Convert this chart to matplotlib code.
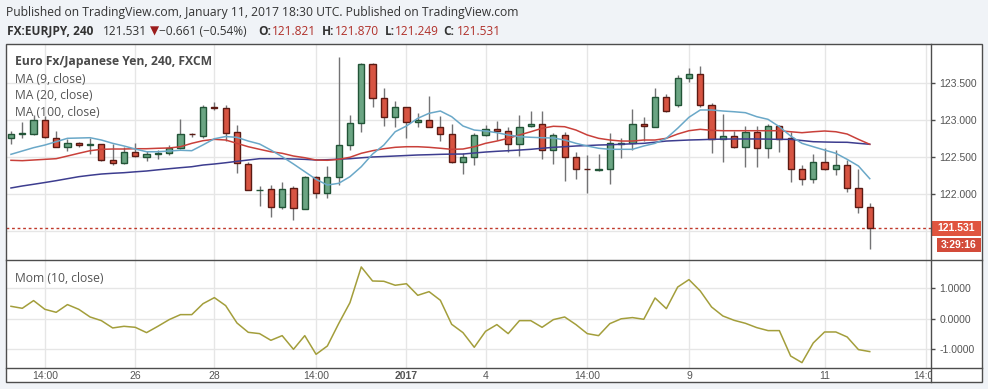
import matplotlib
matplotlib.use("Agg")
import matplotlib.pyplot as plt
from matplotlib.patches import Rectangle
from matplotlib.transforms import Bbox, TransformedBbox
import numpy as np

plt.rcParams['font.family'] = ['Liberation Sans', 'DejaVu Sans']

# EURJPY 4h candles
opens = [122.752, 122.81, 122.81, 123.00, 122.76, 122.63, 122.684, 122.668, 122.67, 122.454,
         122.413, 122.562, 122.503, 122.54, 122.55, 122.616, 122.815, 122.79, 123.17, 123.16,
         122.833, 122.41, 122.05, 122.06, 121.82, 122.075, 121.80, 122.23, 122.007, 122.224,
         122.657, 122.955, 123.755, 123.294, 123.037, 123.17, 122.97, 122.996, 122.90, 122.806,
         122.435, 122.50, 122.797, 122.874, 122.847, 122.67, 122.915, 122.942, 122.60, 122.793,
         122.503, 122.335, 122.32, 122.33, 122.68, 122.684, 122.94, 122.91, 123.31, 123.21,
         123.565, 123.62, 123.21, 122.74, 122.787, 122.64, 122.84, 122.617, 122.915, 122.752,
         122.332, 122.196, 122.427, 122.332, 122.386, 122.075, 121.821]
highs = [122.85, 122.97, 123.07, 123.05, 122.85, 122.74, 122.706, 122.76, 122.68, 122.67,
         122.64, 122.69, 122.576, 122.59, 122.66, 123.01, 122.83, 123.20, 123.24, 123.20,
         122.93, 122.43, 122.11, 122.12, 122.16, 122.10, 122.24, 122.24, 122.376, 123.858,
         123.07, 123.77, 123.77, 123.44, 123.26, 123.18, 123.10, 123.325, 123.05, 122.946,
         122.55, 122.82, 122.93, 122.986, 122.91, 123.07, 123.12, 123.12, 122.83, 122.84,
         122.56, 122.525, 122.535, 122.83, 122.75, 123.15, 123.04, 123.44, 123.35, 123.61,
         123.70, 123.73, 123.23, 123.08, 122.855, 122.92, 122.92, 122.95, 122.93, 122.84,
         122.39, 122.54, 122.617, 122.60, 122.46, 122.336, 121.870]
lows = [122.675, 122.76, 122.80, 122.76, 122.63, 122.58, 122.63, 122.535, 122.45, 122.39,
        122.41, 122.50, 122.44, 122.47, 122.53, 122.61, 122.77, 122.75, 123.135, 122.715,
        122.28, 122.05, 121.84, 121.68, 121.79, 121.65, 121.79, 121.94, 121.94, 122.12,
        122.60, 122.84, 123.18, 122.92, 122.91, 122.76, 122.91, 122.90, 122.71, 122.42,
        122.27, 122.39, 122.78, 122.73, 122.56, 122.516, 122.90, 122.476, 122.41, 122.18,
        122.20, 122.015, 122.31, 122.13, 122.49, 122.59, 122.71, 122.90, 123.11, 123.18,
        123.52, 123.18, 122.55, 122.43, 122.617, 122.36, 122.37, 122.48, 122.57, 122.156,
        122.115, 122.15, 122.32, 122.25, 122.03, 121.736, 121.249]
closes = [122.81, 122.82, 123.00, 122.77, 122.634, 122.684, 122.657, 122.672, 122.454, 122.413,
          122.562, 122.508, 122.535, 122.55, 122.616, 122.81, 122.805, 123.17, 123.16, 122.83,
          122.413, 122.051, 122.055, 121.817, 122.07, 121.81, 122.232, 122.007, 122.224, 122.657,
          122.955, 123.759, 123.294, 123.037, 123.17, 122.97, 123.005, 122.90, 122.806, 122.435,
          122.50, 122.797, 122.874, 122.847, 122.67, 122.91, 122.94, 122.60, 122.793, 122.503,
          122.332, 122.33, 122.33, 122.684, 122.69, 122.94, 122.915, 123.31, 123.12, 123.565,
          123.62, 123.21, 122.74, 122.787, 122.64, 122.833, 122.617, 122.915, 122.747, 122.332,
          122.196, 122.427, 122.33, 122.386, 122.075, 121.82, 121.531]

ma9 = [122.535, 122.58, 122.625, 122.661, 122.706, 122.752, 122.756, 122.76, 122.729, 122.684,
       122.648, 122.607, 122.57, 122.57, 122.58, 122.59, 122.584, 122.663, 122.746, 122.776,
       122.765, 122.715, 122.675, 122.593, 122.503, 122.404, 122.30, 122.196, 122.119, 122.142,
       122.232, 122.367, 122.539, 122.661, 122.841, 122.919, 123.023, 123.091, 123.122, 123.045,
       122.919, 122.864, 122.851, 122.828, 122.797, 122.774, 122.766, 122.76, 122.756, 122.729,
       122.684, 122.648, 122.617, 122.603, 122.603, 122.603, 122.648, 122.684, 122.752, 122.888,
       123.037, 123.136, 123.136, 123.122, 123.112, 123.099, 123.045, 123.009, 122.909, 122.783,
       122.684, 122.638, 122.593, 122.549, 122.467, 122.377, 122.205]
ma20 = [122.454, 122.449, 122.458, 122.467, 122.476, 122.512, 122.549, 122.584, 122.603, 122.607,
        122.607, 122.611, 122.611, 122.617, 122.621, 122.638, 122.684, 122.72, 122.738, 122.729,
        122.684, 122.638, 122.603, 122.57, 122.549, 122.512, 122.489, 122.458, 122.454, 122.467,
        122.495, 122.549, 122.584, 122.611, 122.63, 122.638, 122.638, 122.63, 122.617, 122.603,
        122.607, 122.638, 122.684, 122.715, 122.752, 122.797, 122.841, 122.888, 122.915, 122.909,
        122.864, 122.797, 122.752, 122.729, 122.715, 122.715, 122.729, 122.729, 122.752, 122.81,
        122.855, 122.874, 122.86, 122.855, 122.855, 122.855, 122.855, 122.855, 122.855, 122.841,
        122.828, 122.841, 122.851, 122.841, 122.81, 122.738, 122.671]
ma100 = [122.079, 122.106, 122.129, 122.153, 122.178, 122.205, 122.232, 122.251, 122.268, 122.278,
         122.286, 122.298, 122.309, 122.325, 122.34, 122.354, 122.367, 122.39, 122.404, 122.421,
         122.44, 122.458, 122.476, 122.476, 122.476, 122.472, 122.467, 122.458, 122.462, 122.469,
         122.476, 122.488, 122.499, 122.505, 122.512, 122.519, 122.526, 122.53, 122.535, 122.538,
         122.539, 122.553, 122.566, 122.576, 122.584, 122.593, 122.603, 122.617, 122.63, 122.638,
         122.648, 122.654, 122.661, 122.665, 122.671, 122.678, 122.684, 122.699, 122.715, 122.722,
         122.729, 122.733, 122.738, 122.741, 122.743, 122.743, 122.743, 122.741, 122.738, 122.738,
         122.722, 122.706, 122.702, 122.699, 122.698, 122.684, 122.671]
mom10 = [0.41, 0.344, 0.597, 0.311, 0.213, 0.466, 0.311, 0.06, -0.06, -0.30,
         -0.246, -0.279, -0.453, -0.246, -0.027, 0.137, 0.137, 0.497, 0.694, 0.432,
         -0.137, -0.443, -0.486, -0.705, -0.552, -1.0, -0.552, -1.164, -0.891, -0.158,
         0.53, 1.70, 1.24, 1.23, 1.10, 1.15, 0.77, 0.89, 0.607, -0.18,
         -0.453, -0.934, -0.41, -0.19, -0.486, -0.06, -0.06, -0.279, -0.027, 0.06,
         -0.19, -0.486, -0.552, -0.158, 0.0, 0.04, -0.016, 0.683, 0.333, 1.04,
         1.285, 0.913, 0.388, 0.093, -0.05, -0.148, -0.289, -0.387, -0.387, -1.22,
         -1.437, -0.792, -0.432, -0.432, -0.596, -1.01, -1.075]

tick_pos = [3, 11, 18, 27, 35, 42, 51, 60, 72, 81]
tick_labels = ["14:00", "26", "28", "14:00", "2017", "4", "14:00", "9", "11", "14:00"]
price_ticks = [122.0, 122.5, 123.0, 123.5]
mom_ticks = [-1.0, 0.0, 1.0]
last_price = 121.531
countdown = "3:29:16"

W, H = 988.0, 389.0
bg = "#f0f3f7"
edge = "#4d4d4d"
grid = "#e6e6e6"
txt = "#555555"
red_txt = "#b0302a"

fig = plt.figure(figsize=(9.88, 3.89), dpi=100)
fig.patch.set_facecolor(bg)

base = fig.add_axes([0, 0, 1, 1], zorder=0)
base.set_xlim(0, W); base.set_ylim(H, 0); base.axis("off")
base.add_patch(Rectangle((6, 44), 976, 338, facecolor="white", edgecolor="none"))

ax = fig.add_axes([6 / W, 1 - 260 / H, 925 / W, 216 / H], zorder=1)
axm = fig.add_axes([6 / W, 1 - 368 / H, 925 / W, 108 / H], zorder=1)

# candles
idx = np.arange(len(closes))
o = np.array(opens); c = np.array(closes)
up = c >= o
bot = np.minimum(o, c)
hgt = np.maximum(np.abs(c - o), 0.004)
ax.vlines(idx, lows, highs, color="#737375", lw=1, zorder=2)
ax.bar(idx[up], hgt[up], bottom=bot[up], width=0.55, color="#6ba583",
       edgecolor="#225437", lw=1, zorder=3)
ax.bar(idx[~up], hgt[~up], bottom=bot[~up], width=0.55, color="#d75442",
       edgecolor="#5b1a13", lw=1, zorder=3)

ax.plot(idx, ma100, color="#3d3d8f", lw=1.1, zorder=4)
ax.plot(idx, ma20, color="#c9403a", lw=1.1, zorder=4)
ax.plot(idx, ma9, color="#6aa8c8", lw=1.1, zorder=4)

ax.axhline(121.5, color=grid, lw=1, zorder=0.5)
ax.axhline(last_price, color="#c0392b", lw=1, ls=(0, (2, 2)), zorder=1.5)

for a in (ax, axm):
    a.set_xlim(-0.44, 81.42)
    a.set_xticks(tick_pos)
    a.grid(True, color=grid, lw=1)
    a.set_axisbelow(True)
    a.yaxis.tick_right()
    a.tick_params(axis="y", length=3, width=1, color=edge, pad=3,
                  labelsize=7.5, labelcolor=txt)
    for s in a.spines.values():
        s.set_visible(False)

ax.set_ylim(121.103, 124.03)
ax.set_yticks(price_ticks)
ax.set_yticklabels([f"{v:.3f}" for v in price_ticks])
ax.tick_params(axis="x", length=0, labelbottom=False)

axm.plot(idx, mom10, color="#a39e3b", lw=1.1)
axm.set_ylim(-1.613, 1.928)
axm.set_yticks(mom_ticks)
axm.set_yticklabels([f"{v:.4f}" for v in mom_ticks])
axm.set_xticklabels(tick_labels)
axm.tick_params(axis="x", length=0, pad=2, labelsize=7.5, labelcolor=txt)
xl = axm.get_xticklabels()
xl[4].set_fontweight("bold")
xl[-1].set_clip_box(TransformedBbox(Bbox([[0, 0], [931 / W, 1]]), fig.transFigure))
xl[-1].set_clip_on(True)

# overlay in pixel coordinates
top = fig.add_axes([0, 0, 1, 1], zorder=5)
top.set_xlim(0, W); top.set_ylim(H, 0); top.axis("off")
top.add_patch(Rectangle((6, 44), 976, 338, facecolor="none", edgecolor=edge, lw=1))
top.plot([6, 982], [260, 260], color=edge, lw=1)
top.plot([6, 982], [368, 368], color=edge, lw=1)
top.plot([931, 931], [44, 382], color=edge, lw=1)

yp = H - ax.transData.transform((0, last_price))[1]
top.add_patch(Rectangle((931, yp - 7.5), 50, 15, facecolor="#e0553f", edgecolor="none"))
top.text(956, yp, f"{last_price:.3f}", color="white", fontsize=7.5, fontweight="bold",
         ha="center", va="center")
top.add_patch(Rectangle((937, yp + 9.5), 44, 14.5, facecolor="#d34b3a", edgecolor="none"))
top.text(959, yp + 16.8, countdown, color="white", fontsize=7.5, fontweight="bold",
         ha="center", va="center")

hf = ["Open Sans", "DejaVu Sans"]
top.text(15, 61.7, "Euro Fx/Japanese Yen, 240, FXCM", family=hf, fontsize=8.7,
         fontweight="bold", color="#4a4a4a", va="center")
for k, lab in enumerate(["MA (9, close)", "MA (20, close)", "MA (100, close)"]):
    top.text(15, 79 + 16.7 * k, lab, family=hf, fontsize=8.7, color=txt, va="center")
top.text(15, 278.3, "Mom (10, close)", family=hf, fontsize=8.7, color=txt, va="center")

# header
top.text(6, 12.5, "Published on TradingView.com, January 11, 2017 18:30 UTC. "
         "Published on TradingView.com", family=hf, fontsize=8.7, color="#333333", va="center")
segs = [(6.7, "FX:EURJPY, 240", "bold", "#333333"),
        (103, "121.531", "normal", "#333333"),
        (150, "\u25bc", "normal", "#9b1c1c"),
        (159, "\u22120.661 (\u22120.54%)", "normal", "#333333"),
        (258, "O:", "bold", "#333333"), (272, "121.821", "normal", red_txt),
        (322, "H:", "bold", "#333333"), (335, "121.870", "normal", red_txt),
        (385, "L:", "bold", "#333333"), (395, "121.249", "normal", red_txt),
        (443, "C:", "bold", "#333333"), (457, "121.531", "normal", red_txt)]
for x0, s, w, col in segs:
    fam = ["DejaVu Sans"] if s == "\u25bc" else hf
    top.text(x0, 31, s, family=fam, fontsize=8.6, fontweight=w, color=col, va="center")

fig.savefig("out.png", dpi=100, facecolor=fig.get_facecolor())
